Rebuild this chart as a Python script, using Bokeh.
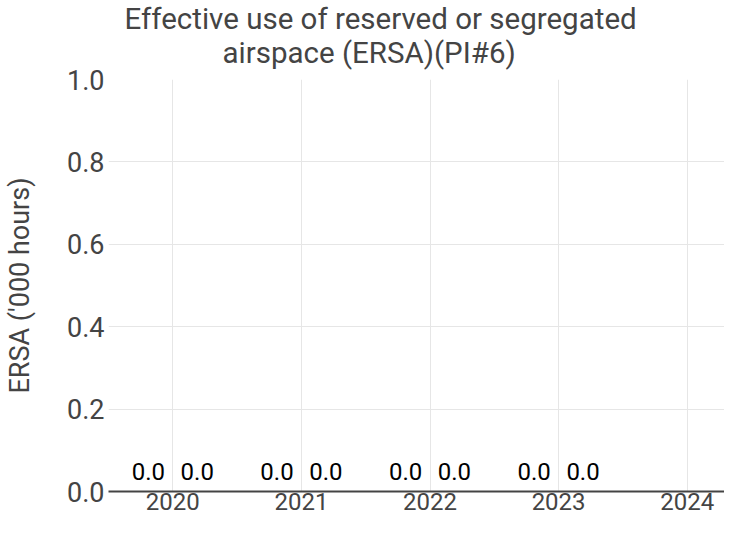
from bokeh.plotting import figure
from bokeh.models import FixedTicker, Range1d, ColumnDataSource, Title
from bokeh.core.properties import value
from bokeh.embed import file_html
from bokeh.resources import INLINE

years = ["2020", "2021", "2022", "2023", "2024"]
series_a = [0.0, 0.0, 0.0, 0.0, None]
series_b = [0.0, 0.0, 0.0, 0.0, None]
y_ticks = [0.0, 0.2, 0.4, 0.6, 0.8, 1.0]
title_lines = ["Effective use of reserved or segregated", "airspace (ERSA)(PI#6)"]

FONT = "Roboto"
GREY = "#444444"

p = figure(width=724, height=522, output_backend="svg", toolbar_location=None,
           x_range=Range1d(-0.5, 4.29), y_range=Range1d(0, 1.0),
           min_border_left=108, min_border_right=0, min_border_top=79,
           min_border_bottom=31, title=None)
p.outline_line_color = None
p.background_fill_color = "white"

# two centred title lines (the lower line is added first, it sits next to the plot)
for txt, off, so in ((title_lines[1], 114, 19), (title_lines[0], 16, -22)):
    t = Title(text=txt, align="left", offset=off, text_font=FONT,
              text_font_size="29.5px", text_font_style="normal",
              text_color=GREY, standoff=so)
    p.add_layout(t, "above")

xs = list(range(len(years)))
xa, ya, xb, yb = [], [], [], []
for i, (a, b) in enumerate(zip(series_a, series_b)):
    if a is not None:
        xa.append(i - 0.19); ya.append(a)
    if b is not None:
        xb.append(i + 0.19); yb.append(b)

src_a = ColumnDataSource(dict(x=xa, top=ya, lab=[f"{v:.1f}" for v in ya]))
src_b = ColumnDataSource(dict(x=xb, top=yb, lab=[f"{v:.1f}" for v in yb]))
p.vbar(x="x", top="top", bottom=0, width=0.36, source=src_a, color="#1f77b4")
p.vbar(x="x", top="top", bottom=0, width=0.36, source=src_b, color="#ff7f0e")
for s in (src_a, src_b):
    p.text(x="x", y="top", text="lab", source=s, text_align="center",
           text_baseline="bottom", y_offset=-12, text_font=value(FONT),
           text_font_size="24px", text_color="black")

# axes
p.xaxis.ticker = FixedTicker(ticks=xs)
p.xaxis.major_label_overrides = {i: y for i, y in enumerate(years)}
p.xaxis.major_label_text_font = FONT
p.xaxis.major_label_text_font_size = "24px"
p.xaxis.major_label_text_color = GREY
p.xaxis.major_tick_line_color = None
p.xaxis.major_tick_out = 0
p.xaxis.major_tick_in = 0
p.xaxis.minor_tick_line_color = None
p.xaxis.minor_tick_out = 0
p.xaxis.axis_line_color = GREY
p.xaxis.axis_line_width = 2
p.xaxis.major_label_standoff = 1

p.yaxis.ticker = FixedTicker(ticks=y_ticks)
p.yaxis.major_label_overrides = {t: f"{t:.1f}" for t in y_ticks}
p.yaxis.major_label_text_font = FONT
p.yaxis.major_label_text_font_size = "27px"
p.yaxis.major_label_text_color = GREY
p.yaxis.major_tick_line_color = None
p.yaxis.major_tick_out = 0
p.yaxis.major_tick_in = 0
p.yaxis.minor_tick_line_color = None
p.yaxis.minor_tick_out = 0
p.yaxis.axis_line_color = None
p.yaxis.major_label_standoff = 4
p.yaxis.axis_label = "ERSA ('000 hours)"
p.yaxis.axis_label_text_font = FONT
p.yaxis.axis_label_text_font_size = "27px"
p.yaxis.axis_label_text_font_style = "normal"
p.yaxis.axis_label_text_color = GREY
p.yaxis.axis_label_standoff = 28

p.xgrid.ticker = FixedTicker(ticks=xs)
p.xgrid.grid_line_color = "#e6e6e6"
p.ygrid.grid_line_color = "#e6e6e6"

open("out.html", "w").write(file_html(p, INLINE))
